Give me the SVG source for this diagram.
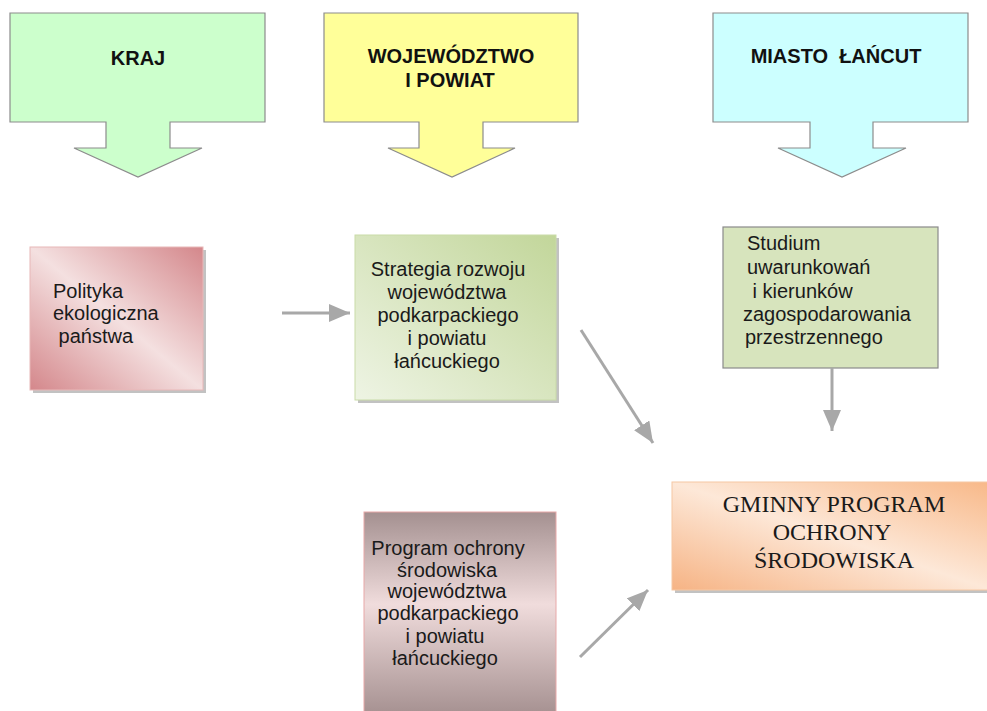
<svg xmlns="http://www.w3.org/2000/svg" width="987" height="711" viewBox="0 0 987 711">
<style>
.hdr{stroke:#8c8c8c;stroke-width:1.2}
.ht{font-family:"Liberation Sans",Arial,sans-serif;font-weight:bold;font-size:20px;fill:#111;text-anchor:middle;white-space:pre}
.bt{font-family:"Liberation Sans",Arial,sans-serif;font-size:20px;fill:#1a1a1a;white-space:pre}
.c{text-anchor:middle}
.st{font-family:"Liberation Serif","Times New Roman",serif;font-size:24px;fill:#1a1a1a;text-anchor:middle}
.sh{fill:#8f8f8f;opacity:0.55}
.con{stroke:#a8a8a8;stroke-width:3;fill:none;marker-end:url(#ah)}
</style>
<defs>
<marker id="ah" markerUnits="userSpaceOnUse" markerWidth="22" markerHeight="18" refX="21" refY="9" orient="auto">
<path d="M0,0 L21,9 L0,18 Z" fill="#a8a8a8"/>
</marker>
<linearGradient id="gPol" x1="1" y1="0" x2="0" y2="1">
<stop offset="0" stop-color="#d4878b"/>
<stop offset="0.5" stop-color="#f4e0e0"/>
<stop offset="1" stop-color="#d4878b"/>
</linearGradient>
<linearGradient id="gStr" x1="1" y1="0" x2="0" y2="1">
<stop offset="0" stop-color="#c2d69a"/>
<stop offset="1" stop-color="#eef4e4"/>
</linearGradient>
<linearGradient id="gPro" x1="0" y1="0" x2="0" y2="1">
<stop offset="0" stop-color="#a49090"/>
<stop offset="0.45" stop-color="#f0dcdc"/>
<stop offset="1" stop-color="#a48f8f"/>
</linearGradient>
<linearGradient id="gGm" x1="1" y1="0" x2="0" y2="1">
<stop offset="0" stop-color="#f8b888"/>
<stop offset="0.5" stop-color="#fde8d8"/>
<stop offset="1" stop-color="#f6b384"/>
</linearGradient>
</defs>

<g id="kraj">
<path class="hdr" fill="#ccffcc" d="M10,13 H265 V122 H170 V148 H202 L138,177 L74,148 H106 V122 H10 Z"/>
<text class="ht" x="138" y="65">KRAJ</text>
</g>
<g id="wojewodztwo">
<path class="hdr" fill="#ffff99" d="M324,13 H578 V122 H483 V148 H515 L452,177 L388,148 H419 V122 H324 Z"/>
<text class="ht" x="451" y="63">WOJEWÓDZTWO</text>
<text class="ht" x="450" y="87">I POWIAT</text>
</g>
<g id="miasto">
<path class="hdr" fill="#ccffff" d="M713,13 H968 V122 H873 V148 H906 L842,177 L778,148 H810 V122 H713 Z"/>
<text class="ht" x="836" y="63">MIASTO  ŁAŃCUT</text>
</g>

<g id="polityka">
<rect class="sh" x="33" y="250" width="173" height="143"/>
<rect x="30" y="247" width="173" height="143" fill="url(#gPol)" stroke="#e8b8b8" stroke-width="1"/>
<text class="bt" x="53" y="298">Polityka</text>
<text class="bt" x="53" y="320">ekologiczna</text>
<text class="bt" x="53" y="343"> państwa</text>
</g>

<g id="strategia">
<rect class="sh" x="358" y="238" width="201" height="165"/>
<rect x="355" y="235" width="201" height="165" fill="url(#gStr)" stroke="#c9dba8" stroke-width="1"/>
<text class="bt c" x="448" y="276">Strategia rozwoju</text>
<text class="bt c" x="447" y="299">województwa</text>
<text class="bt c" x="448" y="322">podkarpackiego</text>
<text class="bt c" x="447" y="345">i powiatu</text>
<text class="bt c" x="447" y="368">łańcuckiego</text>
</g>

<g id="studium">
<rect x="723" y="227" width="215" height="141" fill="#d7e4bd" stroke="#8a8a8a" stroke-width="1.2"/>
<text class="bt" x="747" y="250">Studium</text>
<text class="bt" x="747" y="274">uwarunkowań</text>
<text class="bt" x="747" y="298"> i kierunków</text>
<text class="bt" x="743" y="321">zagospodarowania</text>
<text class="bt" x="745" y="344">przestrzennego</text>
</g>

<g id="program">
<rect x="364" y="512" width="192" height="205" fill="url(#gPro)" stroke="#e8a8a8" stroke-width="1"/>
<text class="bt c" x="448" y="555">Program ochrony</text>
<text class="bt c" x="447" y="577">środowiska</text>
<text class="bt c" x="447" y="598">województwa</text>
<text class="bt c" x="448" y="620">podkarpackiego</text>
<text class="bt c" x="445" y="643">i powiatu</text>
<text class="bt c" x="445" y="665">łańcuckiego</text>
</g>

<g id="gminny">
<rect class="sh" x="675" y="485" width="320" height="108"/>
<rect x="672" y="482" width="320" height="108" fill="url(#gGm)" stroke="#f6c8a4" stroke-width="1"/>
<text class="st" x="834" y="512">GMINNY PROGRAM</text>
<text class="st" x="832" y="540">OCHRONY</text>
<text class="st" x="834" y="568">ŚRODOWISKA</text>
</g>

<g id="connectors">
<line class="con" x1="282" y1="313" x2="350" y2="313"/>
<line class="con" x1="581" y1="330" x2="653" y2="443"/>
<line class="con" x1="832" y1="368" x2="832" y2="431"/>
<line class="con" x1="580" y1="657" x2="648" y2="590"/>
</g>
</svg>
